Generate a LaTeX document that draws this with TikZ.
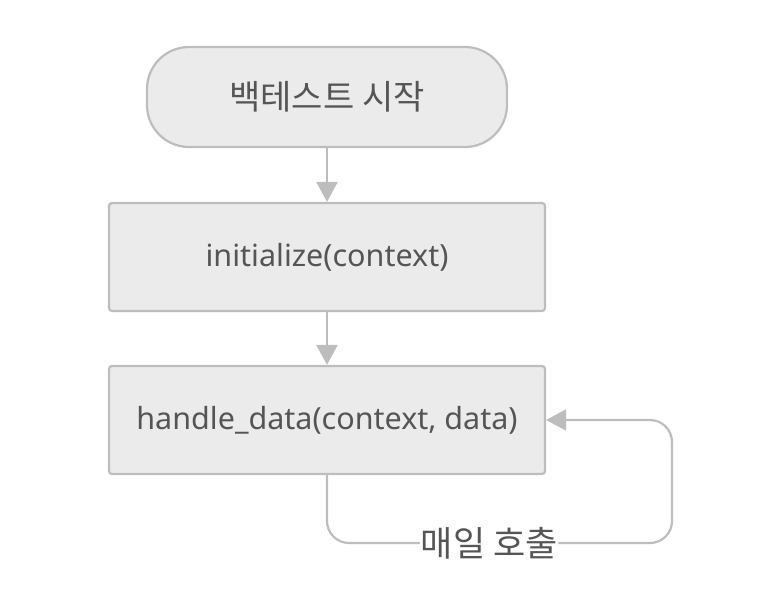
\documentclass[tikz,border=0pt]{standalone}
\usepackage{fontspec}
\setmainfont{Noto Sans}
\newfontfamily\kr{Noto Sans CJK KR}
\usetikzlibrary{arrows.meta}
\definecolor{boxfill}{HTML}{EBEBEB}
\definecolor{boxline}{HTML}{BDBDBD}
\definecolor{txt}{HTML}{555555}
\tikzset{
  base/.style={draw=boxline, fill=boxfill, line width=2.2pt, text=txt, inner sep=0pt},
  startbox/.style={base, rounded corners=42pt, minimum width=360pt, minimum height=100pt, font=\kr\fontsize{34}{38}\selectfont},
  procbox/.style={base, rounded corners=3pt, minimum width=436pt, minimum height=108pt, font=\fontsize{30.5}{34}\selectfont},
  conn/.style={draw=boxline, line width=2.2pt, -{Triangle[length=20pt,width=21pt]}},
  lbl/.style={fill=white, text=txt, inner sep=1pt, font=\kr\fontsize{35}{38}\selectfont}
}
\begin{document}
\begin{tikzpicture}[x=1pt,y=-1pt]
\useasboundingbox (0,0) rectangle (780,598);
\node[startbox] (start) at (327,97) {백테스트 시작};
\node[procbox] (init) at (327,257) {initialize(context)};
\node[procbox] (handle) at (327,420) {handle\_data(context, data)};
\coordinate (c1) at (327,543);
\coordinate (c2) at (672,543);
\coordinate (c3) at (672,420);
\draw[conn] (start) -- (init);
\draw[conn] (init) -- (handle);
\draw[conn, rounded corners=22pt] (handle.south) -- (c1) -- node[lbl, pos=0.47] (lab) {매일 호출} (c2) -- (c3) -- (handle.east);
\end{tikzpicture}
\end{document}
